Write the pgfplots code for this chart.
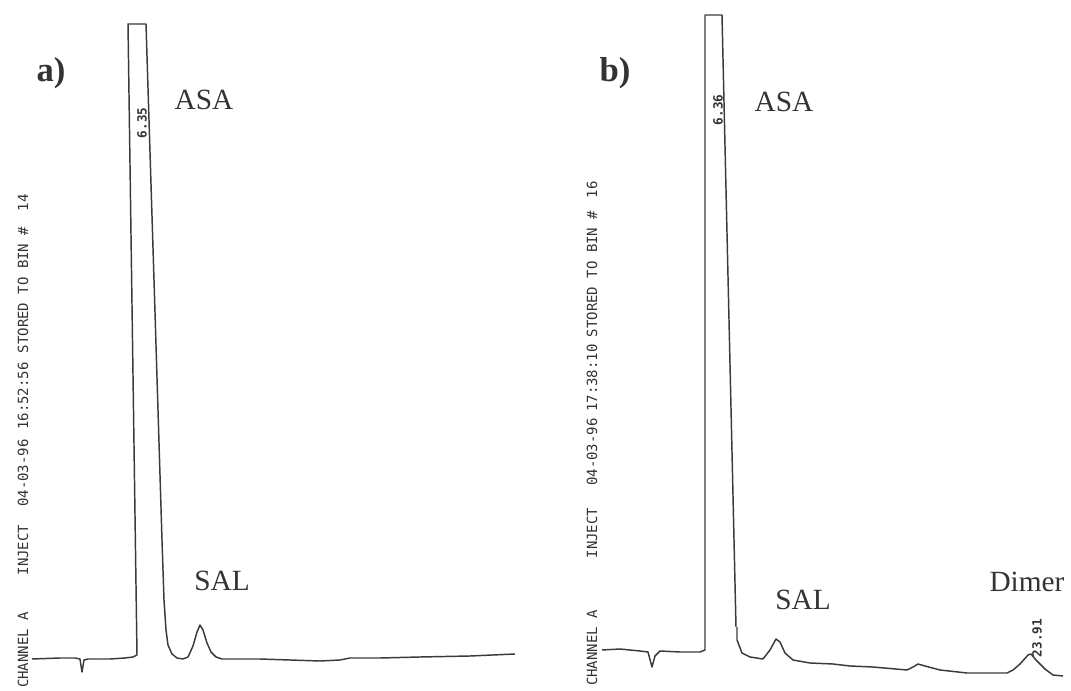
\documentclass[border=0pt]{standalone}
\usepackage{fontspec}
\setmainfont{Liberation Serif}
\newfontfamily\monof{DejaVu Sans Mono}
\usepackage{pgfplots}
\pgfplotsset{compat=1.18}
\definecolor{ink}{HTML}{3A3A3A}
\definecolor{txt}{HTML}{333333}
\begin{document}
\begin{tikzpicture}
\begin{axis}[name=ax, scale only axis, width=803.25pt, height=518.25pt,
  xmin=0, xmax=1071, ymin=0, ymax=691, y dir=reverse, hide axis, clip=false]
% panel a trace
\addplot[ink, line width=1.1pt, line join=round, mark=none] coordinates {
(32,659) (60,658) (75,658) (80,659) (82,672) (84,660) (88,659) (110,659) (125,658) (133,657) (137,655)
(128,24) (146,24) (154,280) (162,540) (164,600) (166,630) (168,645) (172,654) (177,658) (183,659)
(188,657) (193,646) (197,632) (200,625) (203,630) (207,643) (211,652) (216,657) (222,659)
(260,659) (290,660) (320,661) (340,660) (350,658) (380,658) (420,657) (470,656) (515,654)};
% panel b trace
\addplot[ink, line width=1.1pt, line join=round, mark=none] coordinates {
(602,650) (620,649) (640,651) (648,652) (652,667) (655,656) (660,651) (680,652) (700,652) (705,650)
(705,15) (722,15) (729,320) (736,627)};
\addplot[ink, line width=1.1pt, line join=round, mark=none] coordinates {
(737,627) (737,640) (742,653) (750,657) (763,659) (770,650) (776,639) (780,642) (785,653) (793,660)
(810,663) (833,664) (850,666) (873,667) (907,670) (913,667) (918,664) (925,666) (940,670) (967,673)
(1007,673) (1013,670) (1020,664) (1028,655) (1031,654) (1036,660) (1045,669) (1053,675) (1063,676)};
% labels
\node[txt, font=\bfseries\fontsize{26}{28}\selectfont] at (axis cs:51,73) {a)};
\node[txt, font=\bfseries\fontsize{26}{28}\selectfont] at (axis cs:615,73) {b)};
\node[txt, font=\fontsize{22}{24}\selectfont] at (axis cs:204,100) {ASA};
\node[txt, font=\fontsize{22}{24}\selectfont] at (axis cs:784,102) {ASA};
\node[txt, font=\fontsize{22}{24}\selectfont] at (axis cs:222,581) {SAL};
\node[txt, font=\fontsize{22}{24}\selectfont] at (axis cs:803,600) {SAL};
\node[txt, font=\fontsize{22}{24}\selectfont] at (axis cs:1027,582) {Dimer};
% retention times
\node[txt, rotate=90, font=\monof\bfseries\fontsize{9.5}{10}\selectfont] at (axis cs:142,123) {6.35};
\node[txt, rotate=90, font=\monof\bfseries\fontsize{9.5}{10}\selectfont] at (axis cs:718,110) {6.36};
\node[txt, rotate=90, font=\monof\bfseries\fontsize{9.5}{10}\selectfont] at (axis cs:1037,638) {23.91};
% header texts
\begin{scope}[every node/.style={txt, rotate=90, font=\monof\fontsize{10.5}{12}\selectfont, inner sep=0pt}]
\node at (axis cs:23,650) {CHANNEL A};
\node at (axis cs:23,550) {INJECT};
\node at (axis cs:23,473) {04-03-96};
\node at (axis cs:23,396) {16:52:56};
\node at (axis cs:23,290) {STORED TO BIN \#};
\node at (axis cs:23,203) {14};
\node at (axis cs:592,648) {CHANNEL A};
\node at (axis cs:592,533) {INJECT};
\node at (axis cs:592,452) {04-03-96};
\node at (axis cs:592,378) {17:38:10};
\node at (axis cs:592,274) {STORED TO BIN \#};
\node at (axis cs:592,190) {16};
\end{scope}
\end{axis}
\pgfresetboundingbox
\path (ax.south west) rectangle (ax.north east);
\end{tikzpicture}
\end{document}
